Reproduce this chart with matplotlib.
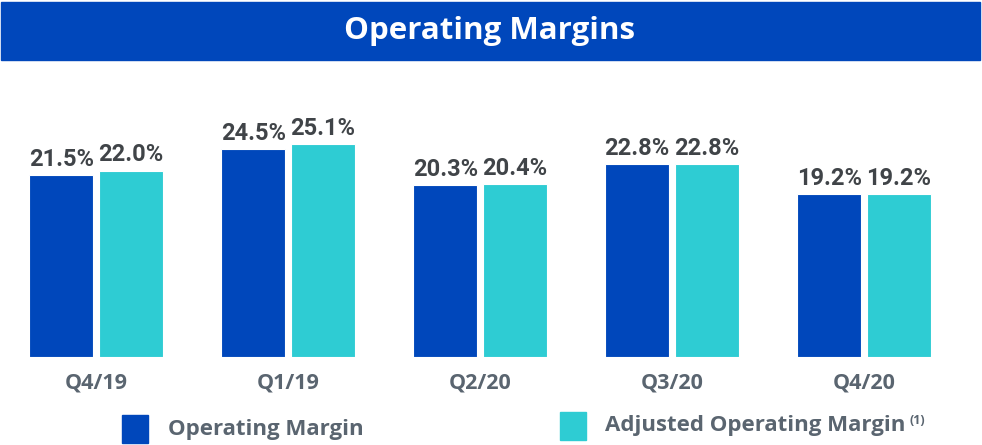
import numpy as np
import matplotlib.pyplot as plt
from matplotlib.patches import Rectangle

quarters = ["Q4/19", "Q1/19", "Q2/20", "Q3/20", "Q4/20"]
operating_margin = [21.5, 24.5, 20.3, 22.8, 19.2]
adjusted_margin = [22.0, 25.1, 20.4, 22.8, 19.2]
series_names = ["Operating Margin", "Adjusted Operating Margin"]

BLUE = "#0047BB"
TEAL = "#2ECCD3"
LABEL = "#404448"
GREY = "#5A6570"
FONT = "Open Sans"

W, H = 982, 445
fig = plt.figure(figsize=(W / 100, H / 100), dpi=100)

# title band
fig.patches.append(Rectangle((1 / W, 1 - 60 / H), 979 / W, 58 / H,
                             transform=fig.transFigure, color=BLUE, zorder=0))
fig.text(490 / W, 1 - 31 / H, "Operating Margins", color="white", ha="center",
         va="center", fontsize=22.5, fontweight="bold", family=FONT)

# bars: baseline at y=357px, 8.47 px per %
ax = fig.add_axes([0, (H - 357) / H, 1, (357 - 70) / H])
x = np.arange(len(quarters))
w = 0.333
off = 0.181
b1 = ax.bar(x - off, operating_margin, w, color=BLUE, edgecolor="white", linewidth=0.8)
b2 = ax.bar(x + off, adjusted_margin, w, color=TEAL, edgecolor="white", linewidth=0.8)
for bars, vals in ((b1, operating_margin), (b2, adjusted_margin)):
    for r, v in zip(bars, vals):
        ax.annotate(f"{v:.1f}%", (r.get_x() + r.get_width() / 2, v),
                    xytext=(0, 3), textcoords="offset points", ha="center",
                    va="bottom", fontsize=17, fontweight="bold", color=LABEL,
                    family="Roboto")
ax.set_xlim(-0.5, -0.5 + W / 192)
ax.set_ylim(0, (357 - 70) / 8.47)
ax.axis("off")

for xi, q in zip(x, quarters):
    ax.annotate(q, (xi, 0), xytext=(0, -26), textcoords="offset pixels",
                ha="center", va="center", fontsize=15.5, fontweight="bold",
                color=GREY, family=FONT)

# legend
for (x0, y0, c) in ((122, 415, BLUE), (560, 412, TEAL)):
    fig.patches.append(Rectangle((x0 / W, 1 - (y0 + 28) / H), 26 / W, 28 / H,
                                 transform=fig.transFigure, color=c))
fig.text(168 / W, 1 - 429 / H, series_names[0], color=GREY, ha="left",
         va="center", fontsize=16, fontweight="bold", family=FONT)
fig.text(605 / W, 1 - 426 / H, series_names[1], color=GREY, ha="left",
         va="center", fontsize=16, fontweight="bold", family=FONT)
fig.text(910 / W, 1 - 421 / H, "(1)", color=GREY, ha="left", va="center",
         fontsize=9, fontweight="bold", family=FONT)

fig.savefig("out.png", dpi=100)
